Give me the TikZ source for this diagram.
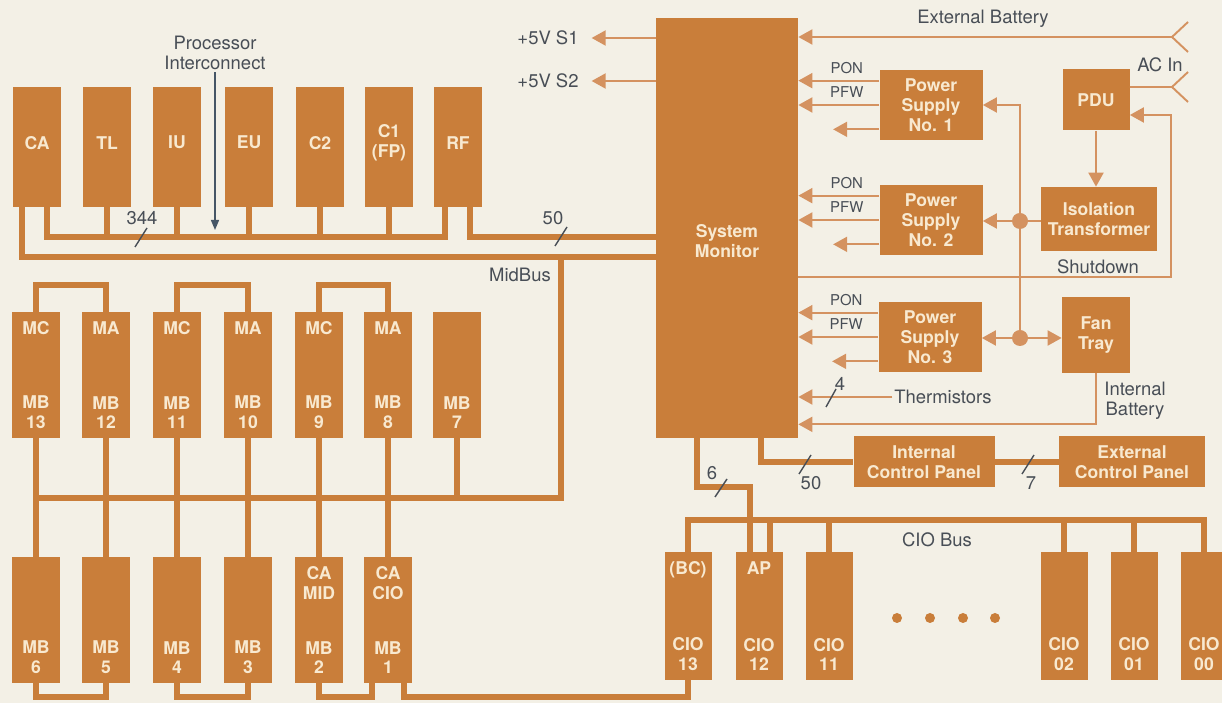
\documentclass[tikz,border=0pt]{standalone}
\usepackage{fontspec}
\setmainfont{TeX Gyre Heros}
\usetikzlibrary{positioning,arrows.meta}
\definecolor{paper}{RGB}{243,240,230}
\definecolor{boardorange}{RGB}{201,126,58}
\definecolor{wireorange}{RGB}{212,146,96}
\definecolor{boardtext}{RGB}{248,233,208}
\definecolor{labelgray}{RGB}{72,78,86}
\definecolor{slategray}{RGB}{70,86,102}

\begin{document}
\begin{tikzpicture}[
    x=0.2mm, y=-0.2mm,
    board/.style={
        fill=boardorange,
        minimum width=9.6mm,
        minimum height=24mm,
        inner sep=0pt
    },
    memboard/.style={board, minimum height=25.2mm},
    cioboard/.style={board, minimum width=9.4mm, minimum height=25.6mm},
    btxt/.style={
        text=boardtext,
        font=\bfseries\fontsize{10}{11.3}\selectfont,
        align=center,
        inner sep=0pt
    },
    unit/.style={fill=boardorange, btxt},
    psbox/.style={unit, minimum width=20.6mm, minimum height=14mm},
    panel/.style={unit, minimum height=10.2mm},
    toptag/.style={btxt, anchor=north, yshift=-1.9mm},
    bottag/.style={btxt, anchor=south, yshift=1.8mm},
    midtag/.style={btxt, anchor=north, yshift=0.86mm},
    lbl/.style={
        text=labelgray,
        font=\fontsize{10.5}{11.5}\selectfont,
        align=center,
        inner sep=1pt
    },
    siglbl/.style={text=labelgray, font=\fontsize{8.5}{10}\selectfont, inner sep=1pt},
    bus/.style={draw=boardorange, line width=3.4pt},
    sig/.style={draw=wireorange, line width=1.1pt},
    sigarr/.style={sig, -{Triangle[length=2.8mm, width=3mm]}},
    piarr/.style={draw=slategray, line width=0.8pt, -{Triangle[length=2mm, width=1.6mm]}},
    slashmark/.style={draw=labelgray, line width=0.8pt},
    junc/.style={circle, fill=wireorange, minimum size=3.2mm, inner sep=0pt}
]

\useasboundingbox (0,0) rectangle (1222,703);
\clip (0,0) rectangle (1222,703);
\fill[paper] (0,0) rectangle (1222,703);

% ============================================================
% PROCESSOR BOARDS
% ============================================================

\node[board, label={[midtag]center:CA}] (ca) at (37,147) {};
\node[board, label={[midtag]center:TL}] (tl) at (107,147) {};
\node[board, label={[midtag]center:IU}] (iu) at (177,147) {};
\node[board, label={[midtag]center:EU}] (eu) at (249,147) {};
\node[board, label={[midtag]center:C2}] (c2) at (320,147) {};
\node[board, label={[midtag]center:C1\\(FP)}] (c1) at (389,147) {};
\node[board, label={[midtag]center:RF}] (rf) at (458,147) {};

% ============================================================
% MEMORY BOARDS
% ============================================================

\node[memboard, label={[toptag]north:MC}, label={[bottag]south:MB\\13}] (mb13) at (36,375) {};
\node[memboard, label={[toptag]north:MA}, label={[bottag]south:MB\\12}] (mb12) at (106,375) {};
\node[memboard, label={[toptag]north:MC}, label={[bottag]south:MB\\11}] (mb11) at (177,375) {};
\node[memboard, label={[toptag]north:MA}, label={[bottag]south:MB\\10}] (mb10) at (248,375) {};
\node[memboard, label={[toptag]north:MC}, label={[bottag]south:MB\\9}] (mb9) at (319,375) {};
\node[memboard, label={[toptag]north:MA}, label={[bottag]south:MB\\8}] (mb8) at (388,375) {};
\node[memboard, label={[bottag]south:MB\\7}] (mb7) at (457,375) {};

\node[memboard, label={[bottag]south:MB\\6}] (mb6) at (36,620) {};
\node[memboard, label={[bottag]south:MB\\5}] (mb5) at (106,620) {};
\node[memboard, label={[bottag]south:MB\\4}] (mb4) at (177,620) {};
\node[memboard, label={[bottag]south:MB\\3}] (mb3) at (248,620) {};
\node[memboard, label={[toptag]north:CA\\MID}, label={[bottag]south:MB\\2}] (mb2) at (319,620) {};
\node[memboard, label={[toptag]north:CA\\CIO}, label={[bottag]south:MB\\1}] (mb1) at (388,620) {};

% ============================================================
% CIO BOARDS
% ============================================================

\node[cioboard, label={[toptag]north:(BC)}, label={[bottag]south:CIO\\13}] (cio13) at (688,616) {};
\node[cioboard, label={[toptag]north:AP}, label={[bottag]south:CIO\\12}] (cio12) at (759,616) {};
\node[cioboard, label={[bottag]south:CIO\\11}] (cio11) at (829,616) {};
\node[cioboard, label={[bottag]south:CIO\\02}] (cio02) at (1064,616) {};
\node[cioboard, label={[bottag]south:CIO\\01}] (cio01) at (1134,616) {};
\node[cioboard, label={[bottag]south:CIO\\00}] (cio00) at (1204,616) {};

\fill[boardorange] (897,618) circle (1mm) (930,618) circle (1mm)
                   (963,618) circle (1mm) (995,618) circle (1mm);

% ============================================================
% SYSTEM MONITOR AND POWER
% ============================================================

\node[unit, minimum width=28.4mm, minimum height=84mm,
      label={[btxt, anchor=center, yshift=-2.6mm]center:System\\Monitor}] (sysmon) at (727,228) {};

\node[psbox] (ps1) at (931,105) {Power\\Supply\\No. 1};
\node[psbox] (ps2) at (931,220) {Power\\Supply\\No. 2};
\node[psbox] (ps3) at (930,337) {Power\\Supply\\No. 3};

\node[unit, minimum width=13.4mm, minimum height=12.2mm] (pdu) at (1096,100) {PDU};
\node[unit, minimum width=23.2mm, minimum height=12.8mm] (iso) at (1099,219) {Isolation\\Transformer};
\node[unit, minimum width=13.6mm, minimum height=15.2mm] (fan) at (1096,335) {Fan\\Tray};

\node[panel, minimum width=28.2mm] (icp) at (924,462) {Internal\\Control Panel};
\node[panel, minimum width=29.2mm] (extcp) at (1132,462) {External\\Control Panel};

\node[junc] (j2) at (1020,221) {};
\node[junc] (j3) at (1020,338) {};

% ============================================================
% TEXT LABELS
% ============================================================

\node[lbl] (pilbl) at (215,53) {Processor\\Interconnect};
\node[lbl] (v5s1) at (548,38) {+5V S1};
\node[lbl] (v5s2) at (548,81) {+5V S2};
\node[lbl] (midbuslbl) at (520,275) {MidBus};
\node[lbl] (extbat) at (983,19) {External Battery};
\node[lbl] (aclbl) at (1160,65) {AC In};
\node[lbl] (shutlbl) at (1098,267) {Shutdown};
\node[lbl] (therm) at (943,397) {Thermistors};
\node[lbl] (intbat) at (1135,401) {Internal\\Battery};
\node[lbl] (ciobuslbl) at (937,540) {CIO Bus};

\node[lbl] (n344) at (142,218) {344};
\node[lbl] (n50a) at (553,218) {50};
\node[lbl] (n4) at (840,384) {4};
\node[lbl] (n6) at (712,473) {6};
\node[lbl] (n50b) at (811,483) {50};
\node[lbl] (n7) at (1031,483) {7};

% ============================================================
% BUSES
% ============================================================

\coordinate (pibus) at (0,237);
\coordinate (midbus) at (0,257);
\coordinate (mbtap) at (561,257);
\coordinate (membus) at (0,498);
\coordinate (ciobus) at (0,520);

% processor interconnect
\draw[bus] ([xshift=2mm]ca.south) |- ([xshift=-2.6mm]rf.south |- pibus) -- ([xshift=-2.6mm]rf.south);
\draw[bus] (tl.south) -- (tl.south |- pibus);
\draw[bus] (iu.south) -- (iu.south |- pibus);
\draw[bus] (eu.south) -- (eu.south |- pibus);
\draw[bus] (c2.south) -- (c2.south |- pibus);
\draw[bus] (c1.south) -- (c1.south |- pibus);
\draw[bus] ([xshift=2.4mm]rf.south) |- (sysmon.west |- pibus);
\draw[piarr] (pilbl.south) -- ([yshift=1.4mm]pilbl.south |- pibus);

% midbus
\draw[bus] ([xshift=-3mm]ca.south) |- (sysmon.west |- midbus);
\draw[bus] (mbtap) |- (mb13.south |- membus);
\draw[bus] (mb7.south) -- (mb7.south |- membus);

\draw[bus] (mb13.south) -- (mb6.north);
\draw[bus] (mb12.south) -- (mb5.north);
\draw[bus] (mb11.south) -- (mb4.north);
\draw[bus] (mb10.south) -- (mb3.north);
\draw[bus] (mb9.south) -- (mb2.north);
\draw[bus] (mb8.south) -- (mb1.north);

\draw[bus] (mb13.north) -- ++(0,-27) -| (mb12.north);
\draw[bus] (mb11.north) -- ++(0,-27) -| (mb10.north);
\draw[bus] (mb9.north) -- ++(0,-27) -| (mb8.north);

\draw[bus] (mb6.south) -- ++(0,14) -| (mb5.south);
\draw[bus] (mb4.south) -- ++(0,14) -| (mb3.south);
\draw[bus] (mb2.south) -- ++(0,14) -| ([xshift=-3.2mm]mb1.south);
\draw[bus] ([xshift=3.2mm]mb1.south) -- ++(0,14) -| (cio13.south);

% cio bus
\draw[bus] (cio13.north) |- (cio00.north |- ciobus) -- (cio00.north);
\draw[bus] ([xshift=2.2mm]cio12.north) -- ([xshift=2.2mm]cio12.north |- ciobus);
\draw[bus] (cio11.north) -- (cio11.north |- ciobus);
\draw[bus] (cio02.north) -- (cio02.north |- ciobus);
\draw[bus] (cio01.north) -- (cio01.north |- ciobus);

% monitor to cio and panels
\draw[bus] ([xshift=-6mm]sysmon.south) -- ++(0,49) -| ([xshift=-1.8mm]cio12.north);
\draw[bus] ([xshift=6.8mm]sysmon.south) |- (icp.west);
\draw[bus] (icp.east) -- (extcp.west);

% ============================================================
% POWER AND MONITOR SIGNALS
% ============================================================

\draw[sigarr] (sysmon.west |- v5s1) -- ([xshift=2.2mm]v5s1.east);
\draw[sigarr] (sysmon.west |- v5s2) -- ([xshift=2.2mm]v5s2.east);

\coordinate (batin) at (1172,37);
\coordinate (acin) at (1172,87);
\draw[sigarr] (batin) -- (batin -| sysmon.east);
\draw[sig] (batin) -- ++(16,-15) (batin) -- ++(16,15);
\draw[sig] (pdu.east |- acin) -- (acin) -- ++(16,-15) (acin) -- ++(16,15);

\draw[sigarr] ([yshift=-2.2mm]ps1.north west) -- ([yshift=-2.2mm]ps1.north west -| sysmon.east)
    node[siglbl, pos=0.4, above=0.9mm] (pon1) {PON};
\draw[sigarr] (ps1.west) -- (ps1.west -| sysmon.east)
    node[siglbl, pos=0.4, above=0.9mm] (pfw1) {PFW};
\draw[sigarr] ([yshift=2.2mm]ps1.south west) -- ++(-9.2mm,0);

\draw[sigarr] ([yshift=-2.2mm]ps2.north west) -- ([yshift=-2.2mm]ps2.north west -| sysmon.east)
    node[siglbl, pos=0.4, above=0.9mm] (pon2) {PON};
\draw[sigarr] (ps2.west) -- (ps2.west -| sysmon.east)
    node[siglbl, pos=0.4, above=0.9mm] (pfw2) {PFW};
\draw[sigarr] ([yshift=2.2mm]ps2.south west) -- ++(-9.2mm,0);

\draw[sigarr] ([yshift=-2.2mm]ps3.north west) -- ([yshift=-2.2mm]ps3.north west -| sysmon.east)
    node[siglbl, pos=0.4, above=0.9mm] (pon3) {PON};
\draw[sigarr] (ps3.west) -- (ps3.west -| sysmon.east)
    node[siglbl, pos=0.4, above=0.9mm] (pfw3) {PFW};
\draw[sigarr] ([yshift=2.2mm]ps3.south west) -- ++(-9.2mm,0);

\draw[sigarr] (pdu.south) -- (pdu.south |- iso.north);
\draw[sig] (j2) -- (j2 -| iso.west);
\draw[sigarr] (j2) -- (j2 -| ps2.east);
\draw[sigarr] (j3.center) |- (ps1.east);
\draw[sigarr] (j3) -- (j3 -| ps3.east);
\draw[sigarr] (j3) -- (j3 -| fan.west);

\coordinate (shutc) at (1171,277);
\draw[sigarr] (sysmon.east |- shutc) -- (shutc) |- ([yshift=-3mm]pdu.east);

\draw[sigarr] (therm.west) -- (therm.west -| sysmon.east);
\draw[sigarr] (fan.south) |- ([yshift=2.8mm]sysmon.south east);

% ============================================================
% BUS WIDTH MARKS
% ============================================================

\draw[slashmark] (135,247) -- (147,228);
\draw[slashmark] (555,246) -- (567,227);
\draw[slashmark] (826,407) -- (836,389);
\draw[slashmark] (715,497) -- (727,479);
\draw[slashmark] (799,474) -- (811,455);
\draw[slashmark] (1022,474) -- (1034,455);

\end{tikzpicture}
\end{document}
